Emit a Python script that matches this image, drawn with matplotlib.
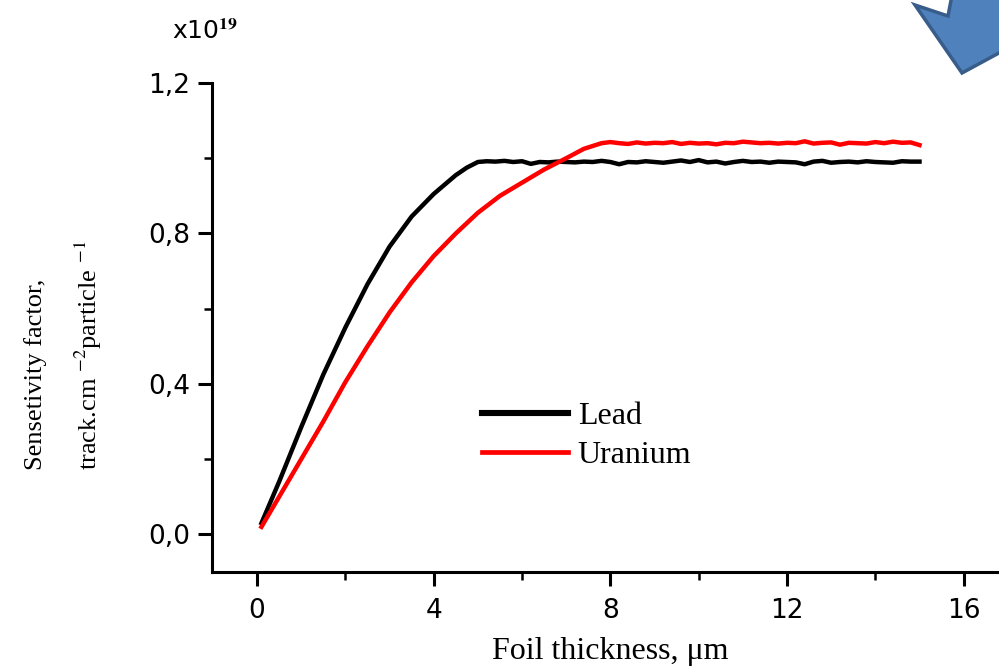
import matplotlib
matplotlib.use("Agg")
import matplotlib.pyplot as plt
from matplotlib.patches import Polygon
from matplotlib.ticker import FuncFormatter, MultipleLocator

# Sensitivity factor (x10^19 track.cm^-2 particle^-1) vs foil thickness (um)
lead_x = [0.1, 0.5, 1.0, 1.5, 2.0, 2.5, 3.0, 3.5, 4.0, 4.25, 4.5, 4.75, 5.0, 5.2,
          5.4, 5.6, 5.8, 6.0, 6.2, 6.4, 6.6, 6.8, 7.0, 7.2, 7.4, 7.6, 7.8,
          8.0, 8.2, 8.4, 8.6, 8.8, 9.0, 9.2, 9.4, 9.6, 9.8, 10.0, 10.2, 10.4,
          10.6, 10.8, 11.0, 11.2, 11.4, 11.6, 11.8, 12.0, 12.2, 12.4, 12.6,
          12.8, 13.0, 13.2, 13.4, 13.6, 13.8, 14.0, 14.2, 14.4, 14.6, 14.8, 15.0]
lead_y = [0.03, 0.14, 0.285, 0.425, 0.55, 0.665, 0.765, 0.845, 0.905, 0.93, 0.955, 0.975, 0.99, 0.992,
          0.991, 0.993, 0.990, 0.992, 0.985, 0.990, 0.989, 0.991, 0.990, 0.989, 0.991, 0.990, 0.993,
          0.990, 0.984, 0.990, 0.989, 0.992, 0.990, 0.988, 0.991, 0.994, 0.990, 0.995, 0.989, 0.991,
          0.986, 0.990, 0.993, 0.990, 0.991, 0.988, 0.991, 0.990, 0.989, 0.984, 0.991,
          0.993, 0.988, 0.990, 0.991, 0.989, 0.992, 0.990, 0.989, 0.988, 0.992, 0.991, 0.991]

uranium_x = [0.1, 0.5, 1.0, 1.5, 2.0, 2.5, 3.0, 3.5, 4.0, 4.5, 5.0, 5.5, 6.0,
             6.5, 7.0, 7.4, 7.8, 8.0, 8.2, 8.4, 8.6, 8.8, 9.0, 9.2, 9.4, 9.6,
             9.8, 10.0, 10.2, 10.4, 10.6, 10.8, 11.0, 11.2, 11.4, 11.6, 11.8,
             12.0, 12.2, 12.4, 12.6, 12.8, 13.0, 13.2, 13.4, 13.6, 13.8, 14.0,
             14.2, 14.4, 14.6, 14.8, 15.0]
uranium_y = [0.02, 0.10, 0.20, 0.30, 0.405, 0.50, 0.59, 0.67, 0.74, 0.80, 0.855, 0.90, 0.935,
             0.97, 1.00, 1.025, 1.04, 1.043, 1.040, 1.038, 1.042, 1.039, 1.041, 1.040, 1.043, 1.038,
             1.041, 1.039, 1.040, 1.037, 1.041, 1.040, 1.044, 1.042, 1.040, 1.041, 1.039,
             1.041, 1.040, 1.045, 1.039, 1.041, 1.042, 1.036, 1.041, 1.040, 1.039, 1.043,
             1.040, 1.044, 1.041, 1.042, 1.035]

plt.rcParams["mathtext.fontset"] = "stix"

fig = plt.figure(figsize=(9.99, 6.68), dpi=100)
ax = fig.add_axes([212 / 999, 96 / 668, 787 / 999, 489 / 668])

ax.plot(lead_x, lead_y, color="black", lw=3.2, label="Lead")
ax.plot(uranium_x, uranium_y, color="#ff0000", lw=3.2, label="Uranium")

ax.set_xlim(-1.02, 16.8)
ax.set_ylim(-0.1, 1.2)
ax.spines["top"].set_visible(False)
ax.spines["right"].set_visible(False)
for s in ("left", "bottom"):
    ax.spines[s].set_linewidth(2.2)

ax.xaxis.set_major_locator(MultipleLocator(4))
ax.xaxis.set_minor_locator(MultipleLocator(2))
ax.yaxis.set_major_locator(MultipleLocator(0.4))
ax.yaxis.set_minor_locator(MultipleLocator(0.2))
ax.yaxis.set_major_formatter(FuncFormatter(lambda v, p: f"{v:.1f}".replace(".", ",")))
ax.tick_params(which="major", direction="out", length=10, width=2.2,
               labelsize=19, labelfontfamily="DejaVu Sans", pad=6)
ax.tick_params(which="minor", direction="out", length=6, width=1.8)
ax.tick_params(axis="x", pad=9)

leg = ax.legend(loc="upper left", bbox_to_anchor=(482 / 999, 1 - 402 / 668),
                bbox_transform=fig.transFigure, frameon=False,
                prop={"family": "Liberation Serif", "size": 23},
                handlelength=2.7, handletextpad=0.3, labelspacing=0.3,
                borderpad=0, borderaxespad=0)
leg.get_lines()[0].set_linewidth(4.4)
leg.get_lines()[1].set_linewidth(3.4)

fig.text(610 / 999, 9 / 668, "Foil thickness, \u03bcm", ha="center", va="baseline",
         family="Liberation Serif", fontsize=23)

fig.text(36 / 999, 198 / 668, "Sensetivity factor,", rotation=90, ha="center", va="bottom",
         family="Liberation Serif", fontsize=19)
fig.text(88 / 999, 198 / 668, "track.cm $^{-2}$particle $^{-1}$", rotation=90,
         ha="center", va="bottom", family="Liberation Serif", fontsize=19)

fig.text(172 / 999, 636 / 668, "x10$^{\\mathbf{19}}$", ha="left", va="center",
         family="DejaVu Sans", fontsize=18)

# blue block arrow in the top right corner
arrow_px = [(915, 5), (948, 16), (953, -10), (1010, -10), (1010, 47), (962, 73)]
arrow = Polygon([(x / 999, 1 - y / 668) for x, y in arrow_px], closed=True,
                transform=fig.transFigure, facecolor="#4f81bd", edgecolor="#385d8a",
                lw=2.5, clip_on=False)
fig.add_artist(arrow)

fig.savefig("out.png", dpi=100)
